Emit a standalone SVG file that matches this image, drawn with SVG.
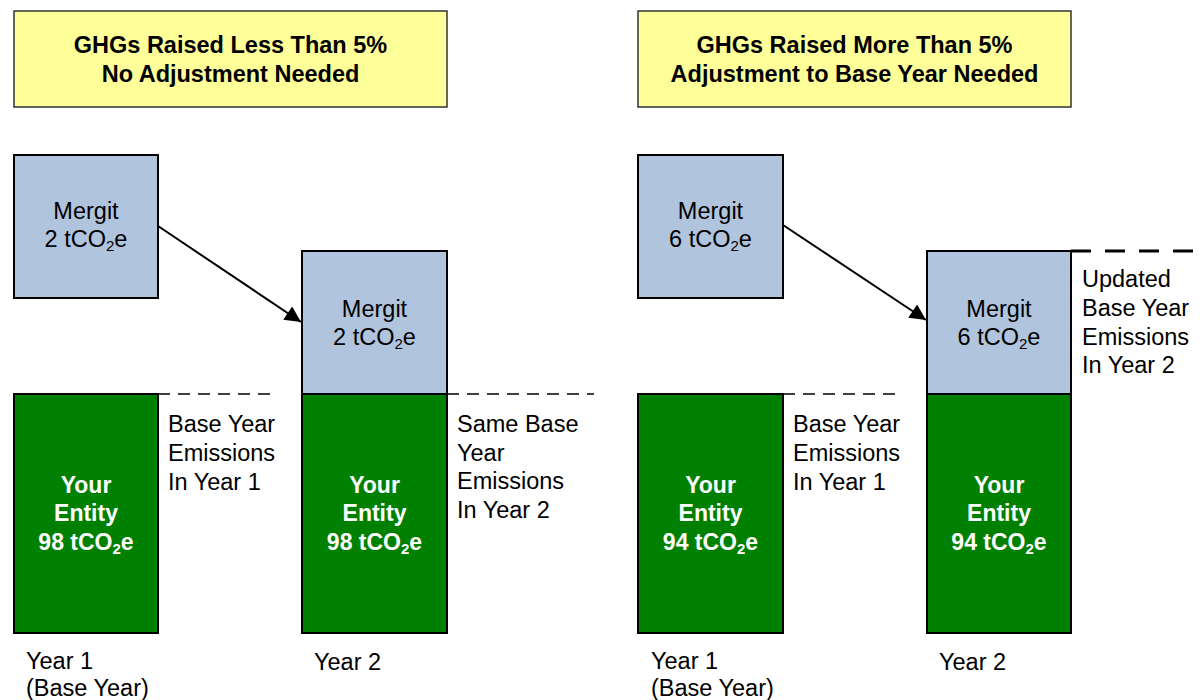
<svg xmlns="http://www.w3.org/2000/svg" width="1202" height="700" viewBox="0 0 1202 700">
  <defs>
    <style>
      .hdr { fill: #FFFF99; stroke: #333333; stroke-width: 1.5; }
      .mrg { fill: #B0C4DE; stroke: #000000; stroke-width: 2; }
      .ent { fill: #008000; stroke: #000000; stroke-width: 2; }
      text { font-family: "Liberation Sans", Arial, sans-serif; }
      .t { font-size: 23.5px; fill: #000000; }
      .c { text-anchor: middle; }
      .hb { font-size: 23.5px; font-weight: bold; fill: #000000; text-anchor: middle; }
      .eb { font-size: 23px; font-weight: bold; fill: #FFFFFF; text-anchor: middle; }
      .sub { font-size: 15px; }
      .dash { stroke: #000000; stroke-width: 1.5; stroke-dasharray: 12 8; fill: none; }
      .dashthick { stroke: #000000; stroke-width: 3; stroke-dasharray: 20 14; fill: none; }
      .arrow { stroke: #000000; stroke-width: 2; fill: none; marker-end: url(#head); }
    </style>
    <marker id="head" viewBox="0 0 10 10" refX="10" refY="5" markerWidth="10" markerHeight="8" markerUnits="strokeWidth" orient="auto">
      <path d="M0,0 L10,5 L0,10 z" fill="#000000"/>
    </marker>
  </defs>

  <!-- Left scenario: increase below threshold -->
  <g id="header-left">
    <rect class="hdr" x="14" y="11" width="433" height="96"/>
    <text class="hb" x="230.5" y="53">GHGs Raised Less Than 5%</text>
    <text class="hb" x="230.5" y="81.5">No Adjustment Needed</text>
  </g>

  <g id="merged-left-y1">
    <rect class="mrg" x="14" y="155" width="144" height="143"/>
    <text class="t c" x="86" y="219">Mergit</text>
    <text class="t c" x="86" y="247">2 tCO<tspan class="sub" dy="4">2</tspan><tspan dy="-4">e</tspan></text>
  </g>

  <g id="entity-left-y1">
    <rect class="ent" x="14" y="394" width="144" height="239"/>
    <text class="eb" x="86" y="493">Your</text>
    <text class="eb" x="86" y="521">Entity</text>
    <text class="eb" x="86" y="549.5">98 tCO<tspan class="sub" dy="4">2</tspan><tspan dy="-4">e</tspan></text>
  </g>

  <g id="merged-left-y2">
    <rect class="mrg" x="302" y="251" width="145" height="143"/>
    <text class="t c" x="374.5" y="317">Mergit</text>
    <text class="t c" x="374.5" y="345">2 tCO<tspan class="sub" dy="4">2</tspan><tspan dy="-4">e</tspan></text>
  </g>

  <g id="entity-left-y2">
    <rect class="ent" x="302" y="394" width="145" height="239"/>
    <text class="eb" x="374.5" y="493">Your</text>
    <text class="eb" x="374.5" y="521">Entity</text>
    <text class="eb" x="374.5" y="549.5">98 tCO<tspan class="sub" dy="4">2</tspan><tspan dy="-4">e</tspan></text>
  </g>

  <g id="labels-left">
    <text class="t" x="168" y="432">Base Year</text>
    <text class="t" x="168" y="461">Emissions</text>
    <text class="t" x="168" y="490">In Year 1</text>
    <text class="t" x="457" y="432">Same Base</text>
    <text class="t" x="457" y="460.5">Year</text>
    <text class="t" x="457" y="489">Emissions</text>
    <text class="t" x="457" y="517.5">In Year 2</text>
    <text class="t" x="26" y="669">Year 1</text>
    <text class="t" x="26" y="696">(Base Year)</text>
    <text class="t" x="314" y="670">Year 2</text>
  </g>

  <!-- Right scenario: increase above threshold -->
  <g id="header-right">
    <rect class="hdr" x="638" y="11" width="433" height="96"/>
    <text class="hb" x="854.5" y="53">GHGs Raised More Than 5%</text>
    <text class="hb" x="854.5" y="81.5">Adjustment to Base Year Needed</text>
  </g>

  <g id="merged-right-y1">
    <rect class="mrg" x="638" y="155" width="145" height="143"/>
    <text class="t c" x="710.5" y="219">Mergit</text>
    <text class="t c" x="710.5" y="247">6 tCO<tspan class="sub" dy="4">2</tspan><tspan dy="-4">e</tspan></text>
  </g>

  <g id="entity-right-y1">
    <rect class="ent" x="638" y="394" width="145" height="239"/>
    <text class="eb" x="710.5" y="493">Your</text>
    <text class="eb" x="710.5" y="521">Entity</text>
    <text class="eb" x="710.5" y="549.5">94 tCO<tspan class="sub" dy="4">2</tspan><tspan dy="-4">e</tspan></text>
  </g>

  <g id="merged-right-y2">
    <rect class="mrg" x="927" y="251" width="144" height="143"/>
    <text class="t c" x="999" y="317">Mergit</text>
    <text class="t c" x="999" y="345">6 tCO<tspan class="sub" dy="4">2</tspan><tspan dy="-4">e</tspan></text>
  </g>

  <g id="entity-right-y2">
    <rect class="ent" x="927" y="394" width="144" height="239"/>
    <text class="eb" x="999" y="493">Your</text>
    <text class="eb" x="999" y="521">Entity</text>
    <text class="eb" x="999" y="549.5">94 tCO<tspan class="sub" dy="4">2</tspan><tspan dy="-4">e</tspan></text>
  </g>

  <g id="labels-right">
    <text class="t" x="793" y="432">Base Year</text>
    <text class="t" x="793" y="461">Emissions</text>
    <text class="t" x="793" y="490">In Year 1</text>
    <text class="t" x="1082" y="287">Updated</text>
    <text class="t" x="1082" y="316">Base Year</text>
    <text class="t" x="1082" y="344.5">Emissions</text>
    <text class="t" x="1082" y="373">In Year 2</text>
    <text class="t" x="651" y="669">Year 1</text>
    <text class="t" x="651" y="696">(Base Year)</text>
    <text class="t" x="939" y="670">Year 2</text>
  </g>

  <!-- Connectors and base-year reference lines -->
  <g id="connectors">
    <line class="arrow" x1="158" y1="226" x2="301" y2="322"/>
    <line class="arrow" x1="783" y1="225" x2="926" y2="320"/>
    <line class="dash" x1="158" y1="394" x2="276" y2="394"/>
    <line class="dash" x1="447" y1="394" x2="594" y2="394"/>
    <line class="dash" x1="783" y1="394" x2="900" y2="394"/>
    <line class="dashthick" x1="1071" y1="251" x2="1202" y2="251"/>
  </g>
</svg>
